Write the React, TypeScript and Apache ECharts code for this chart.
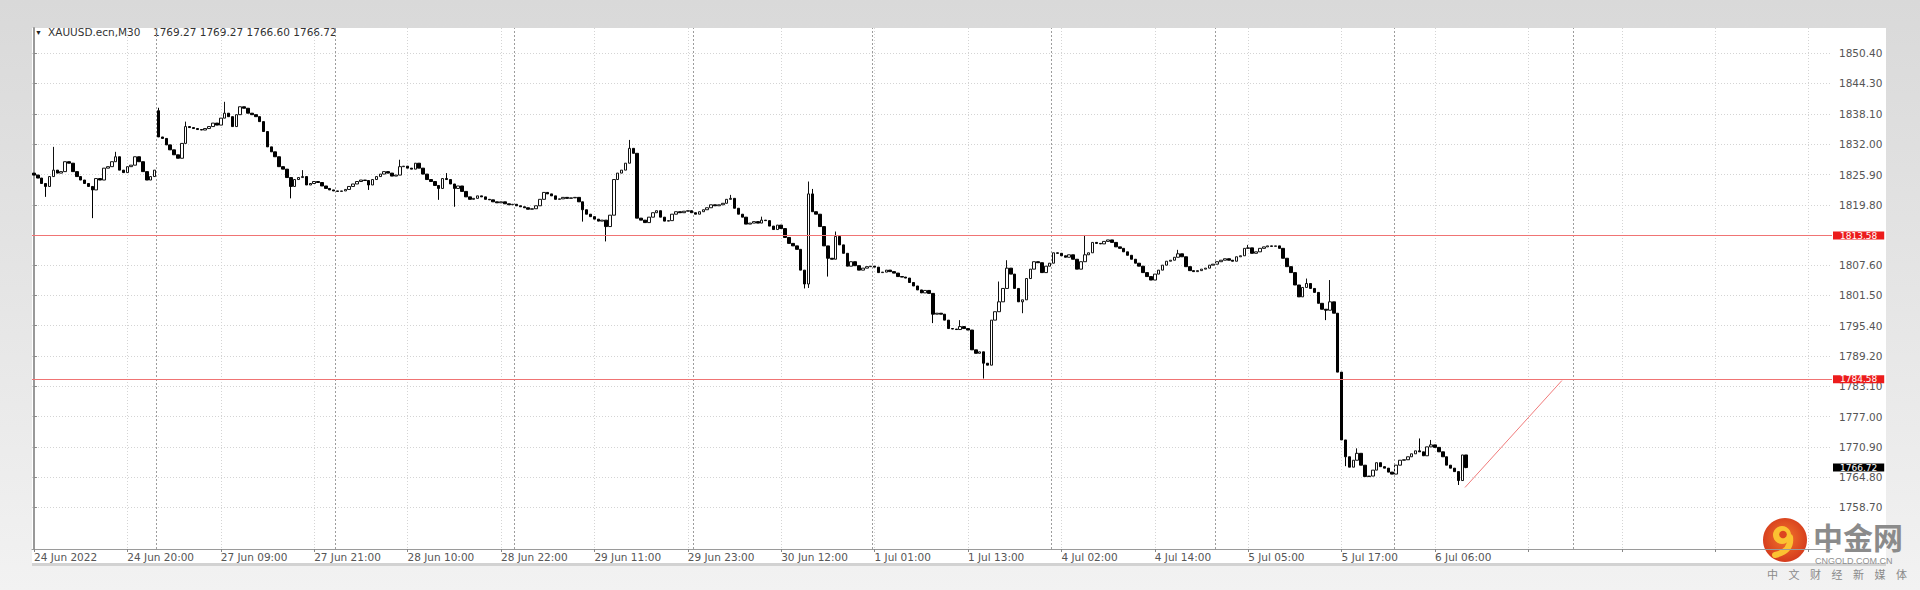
import React, { useEffect, useRef } from "react";
import * as echarts from "echarts";

// ---------- data ----------
const symbolName = "XAUUSD.ecn,M30";

const xTickLabels = [
  "24 Jun 2022", "24 Jun 20:00", "27 Jun 09:00", "27 Jun 21:00", "28 Jun 10:00", "28 Jun 22:00",
  "29 Jun 11:00", "29 Jun 23:00", "30 Jun 12:00", "1 Jul 01:00", "1 Jul 13:00", "4 Jul 02:00",
  "4 Jul 14:00", "5 Jul 05:00", "5 Jul 17:00", "6 Jul 06:00",
];
const xTickBars = [0, 24, 48, 72, 96, 120, 144, 168, 192, 216, 240, 264, 288, 312, 336, 360];
const xGridBars = [0, 24, 48, 72, 96, 120, 144, 168, 192, 216, 240, 264, 288, 312, 336, 360, 384, 408, 432, 456];
const daySeparators = [31.5, 77.5, 123.5, 169.5, 215.5, 261.5, 303.5, 349.5, 395.5];

const yTicks = [
  1758.7, 1764.8, 1770.9, 1777.0, 1783.1, 1789.2, 1795.4, 1801.5,
  1807.6, 1813.7, 1819.8, 1825.9, 1832.0, 1838.1, 1844.3, 1850.4,
];
const yHiddenLabel = 1813.7;
const yMin = 1750.27;
const yMax = 1855.51;

const levelLines = [1813.58, 1784.58];
const currentPrice = 1766.72;
const trendLine = [
  [367.7, 1762.7],
  [392.6, 1784.3],
];

// M30 closes, bar 0 .. 368
const closes = [
  1825.8, 1825.2, 1824.1, 1823.5, 1825.5, 1826.8, 1826.2, 1826.5, 1828.5, 1828.2,
  1826.5, 1825.5, 1824.8, 1824.1, 1823.5, 1822.8, 1825.1, 1824.8, 1827.2, 1827.5,
  1828.5, 1829.5, 1826.8, 1826.3, 1827.5, 1827.8, 1829.5, 1828.5, 1826.5, 1824.8,
  1825.5, 1826.8, 1833.5, 1833.2, 1831.9, 1830.9, 1829.9, 1829.2, 1832.2, 1835.6,
  1835.4, 1835.2, 1835.0, 1834.9, 1835.2, 1835.6, 1836.3, 1835.9, 1837.3, 1838.3,
  1837.6, 1835.6, 1838.0, 1839.6, 1839.3, 1838.3, 1838.0, 1837.6, 1836.6, 1834.6,
  1831.5, 1830.5, 1829.5, 1827.5, 1827.0, 1825.3, 1823.5, 1824.9, 1825.3, 1825.5,
  1823.8, 1824.1, 1824.5, 1824.3, 1823.6, 1823.1, 1822.8, 1822.6, 1822.5, 1822.6,
  1822.9, 1823.5, 1824.0, 1824.5, 1824.8, 1824.7, 1823.8, 1824.9, 1825.5, 1826.0,
  1826.5, 1826.2, 1825.6, 1825.8, 1827.5, 1827.6, 1827.2, 1827.0, 1828.2, 1827.2,
  1826.0, 1824.9, 1824.5, 1823.7, 1823.1, 1825.1, 1824.9, 1824.0, 1823.1, 1823.6,
  1822.5, 1821.4, 1820.9, 1821.1, 1821.6, 1821.4, 1820.9, 1820.8, 1820.4, 1820.2,
  1820.4, 1820.0, 1819.8, 1819.9, 1819.6, 1819.4, 1819.2, 1818.9, 1819.0, 1819.6,
  1820.9, 1822.3, 1822.0, 1821.6, 1820.9, 1821.0, 1821.3, 1821.1, 1821.2, 1821.3,
  1820.4, 1818.8, 1817.9, 1817.4, 1816.9, 1816.5, 1816.7, 1815.4, 1817.7, 1824.9,
  1826.2, 1826.8, 1828.2, 1831.2, 1830.2, 1817.1, 1816.7, 1816.2, 1817.3, 1818.2,
  1818.6, 1817.3, 1816.5, 1816.6, 1817.9, 1818.4, 1818.2, 1818.5, 1818.6, 1818.2,
  1817.9, 1818.4, 1818.8, 1819.2, 1819.8, 1819.6, 1819.8, 1820.1, 1820.9, 1821.1,
  1819.1, 1817.9, 1817.3, 1815.9, 1816.1, 1816.4, 1816.1, 1816.7, 1816.6, 1815.5,
  1814.8, 1815.7, 1815.0, 1813.2, 1812.0, 1811.5, 1810.8, 1806.6, 1803.8, 1822.0,
  1818.4, 1817.9, 1815.4, 1811.5, 1809.0, 1808.8, 1813.4, 1811.7, 1810.0, 1807.4,
  1808.3, 1807.5, 1806.6, 1807.0, 1807.3, 1807.4, 1807.2, 1806.1, 1806.2, 1806.6,
  1806.3, 1806.0, 1805.3, 1805.2, 1805.0, 1804.1, 1803.4, 1802.6, 1802.0, 1802.5,
  1801.9, 1797.7, 1797.9, 1797.7, 1796.5, 1794.8, 1794.7, 1794.6, 1795.2, 1794.8,
  1794.5, 1790.5, 1789.8, 1790.1, 1787.8, 1787.4, 1796.5, 1798.2, 1800.2, 1802.9,
  1807.0, 1805.8, 1802.9, 1800.2, 1800.6, 1804.9, 1806.8, 1808.3, 1808.1, 1806.1,
  1807.4, 1808.0, 1810.1, 1810.0, 1809.5, 1809.2, 1809.7, 1808.8, 1806.8, 1808.3,
  1809.7, 1810.1, 1812.2, 1812.0, 1811.9, 1812.4, 1812.7, 1812.2, 1811.3, 1811.0,
  1810.3, 1809.6, 1808.8, 1808.0, 1807.4, 1806.1, 1805.3, 1804.6, 1805.8, 1806.6,
  1807.6, 1808.4, 1808.6, 1809.2, 1809.9, 1809.3, 1807.3, 1806.5, 1806.3, 1806.5,
  1806.8, 1807.0, 1807.6, 1807.8, 1808.3, 1808.6, 1808.9, 1808.6, 1808.4, 1809.3,
  1809.5, 1811.0, 1811.1, 1810.0, 1810.3, 1811.0, 1811.3, 1811.5, 1811.4, 1811.5,
  1811.0, 1809.0, 1807.3, 1806.1, 1803.6, 1801.2, 1803.1, 1803.9, 1802.9, 1802.1,
  1799.9, 1798.7, 1798.5, 1800.2, 1797.9, 1786.0, 1772.3, 1768.9, 1766.8, 1768.2,
  1769.6, 1767.2, 1764.9, 1765.0, 1766.2, 1767.7, 1766.9, 1766.6, 1765.8, 1765.4,
  1767.2, 1768.2, 1768.3, 1768.9, 1769.5, 1770.1, 1769.9, 1769.1, 1770.9, 1771.3,
  1770.8, 1769.9, 1768.9, 1767.2, 1766.6, 1765.9, 1764.1, 1769.27, 1766.72,
];

// opens that differ from the previous close (session gaps)
const openGaps: [number, number][] = [
  [0, 1826.2],
  [32, 1838.8],
];
// visible upper wicks
const highWicks: [number, number][] = [
  [5, 1831.5], [21, 1830.5], [32, 1839.4], [39, 1836.6], [49, 1840.6], [69, 1826.8],
  [94, 1828.9], [106, 1826.2], [153, 1832.9], [179, 1821.8], [187, 1817.4], [199, 1824.5],
  [200, 1823.0], [206, 1814.4], [238, 1796.5], [248, 1804.3], [250, 1808.6], [270, 1813.7],
  [294, 1810.7], [312, 1811.7], [327, 1804.9], [333, 1804.6], [340, 1770.6], [356, 1772.6],
  [359, 1772.3], [368, 1769.27],
];
// visible lower wicks
const lowWicks: [number, number][] = [
  [3, 1821.4], [15, 1817.1], [66, 1821.1], [86, 1822.8], [104, 1820.8], [108, 1819.4],
  [141, 1816.4], [147, 1812.4], [198, 1802.9], [199, 1803.0], [204, 1805.3], [231, 1795.9],
  [244, 1784.7], [254, 1797.9], [332, 1796.5], [337, 1767.0], [366, 1763.2], [368, 1766.6],
];

// ---------- build OHLC rows ----------
const openMap = new Map(openGaps);
const highMap = new Map(highWicks);
const lowMap = new Map(lowWicks);
const candles = closes.map((c, i) => {
  const o = openMap.has(i) ? (openMap.get(i) as number) : closes[i - 1];
  const h = Math.max(o, c, highMap.has(i) ? (highMap.get(i) as number) : -Infinity);
  const l = Math.min(o, c, lowMap.has(i) ? (lowMap.get(i) as number) : Infinity);
  return [i, o, c, l, h];
});
const last = candles[candles.length - 1];
const headerValues = [last[1], last[4], last[3], last[2]].map((v) => v.toFixed(2)).join(" ");

const FONT = "DejaVu Sans";

export default function App() {
  const ref = useRef<HTMLDivElement>(null);

  useEffect(() => {
    if (!ref.current) return;
    const chart = echarts.init(ref.current, null, { renderer: "svg" });

    const labelStyle = (bg: string) => ({
      show: true,
      position: "end",
      distance: 1,
      backgroundColor: bg,
      color: "#ffffff",
      fontFamily: FONT,
      fontSize: 9,
      lineHeight: 8,
      padding: [0, 7],
    });

    const markData: any[] = [
      ...daySeparators.map((v) => ({
        xAxis: v,
        lineStyle: { color: "#9c9c9c", width: 1, type: [2, 2] },
      })),
      ...levelLines.map((v) => ({
        yAxis: v,
        lineStyle: { color: "#f07474", width: 1, type: "solid" },
        label: { ...labelStyle("#ec1c1c"), formatter: v.toFixed(2) },
      })),
      {
        yAxis: currentPrice,
        lineStyle: { color: "rgba(0,0,0,0)", width: 1, type: "solid" },
        label: { ...labelStyle("#000000"), formatter: currentPrice.toFixed(2) },
      },
      [
        { coord: trendLine[0] },
        { coord: trendLine[1], lineStyle: { color: "#f07a7a", width: 1, type: "solid" } },
      ],
    ];

    const gridLine = { show: true, lineStyle: { color: "#d4d4d4", width: 1, type: [1, 2] } };

    const option: any = {
      animation: false,
      backgroundColor: "transparent",
      grid: { left: 32, top: 28, width: 1800, height: 521, containLabel: false, outerBoundsMode: "none" },
      xAxis: {
        type: "value",
        min: -0.5,
        max: 462,
        axisLine: { show: true, onZero: false, lineStyle: { color: "#9a9a9a", width: 1 } },
        axisTick: { show: true, customValues: xGridBars, length: 3, lineStyle: { color: "#888" } },
        axisLabel: {
          customValues: xTickBars,
          formatter: (v: number) => {
            const k = xTickBars.indexOf(Math.round(v));
            return k >= 0 ? xTickLabels[k] : "";
          },
          align: "left",
          margin: 2,
          fontFamily: FONT,
          fontSize: 10.5,
          color: "#555",
        },
        splitLine: gridLine,
      },
      yAxis: {
        type: "value",
        position: "right",
        min: yMin,
        max: yMax,
        scale: true,
        axisLine: { show: true, lineStyle: { color: "#999", width: 2 } },
        axisTick: { show: true, customValues: yTicks, length: 3, lineStyle: { color: "#888" } },
        axisLabel: {
          customValues: yTicks.filter((v) => v !== yHiddenLabel),
          formatter: (v: number) => v.toFixed(2),
          margin: 7,
          fontFamily: FONT,
          fontSize: 10.5,
          color: "#555",
        },
        splitLine: gridLine,
      },
      series: [
        {
          type: "candlestick",
          data: candles,
          encode: { x: 0, y: [1, 2, 3, 4] },
          barWidth: 3,
          itemStyle: {
            color: "#ffffff",
            color0: "#000000",
            borderColor: "#111111",
            borderColor0: "#000000",
            borderWidth: 1,
          },
          emphasis: { disabled: true },
          markLine: {
            silent: true,
            symbol: ["none", "none"],
            label: { show: false },
            emphasis: { disabled: true },
            data: markData,
          },
        },
      ],
      graphic: [
        {
          type: "text",
          x: 35,
          y: 32,
          style: { text: "\u25BC", fontSize: 7, fill: "#222", verticalAlign: "middle" },
        },
        {
          type: "text",
          x: 48,
          y: 32,
          style: { text: symbolName, fontFamily: FONT, fontSize: 10.5, fill: "#333", verticalAlign: "middle" },
        },
        {
          type: "text",
          x: 153,
          y: 32,
          style: { text: headerValues, fontFamily: FONT, fontSize: 10.5, fill: "#333", verticalAlign: "middle" },
        },
        // CNGOLD watermark
        {
          type: "circle",
          shape: { cx: 1785, cy: 540, r: 22 },
          style: {
            fill: new echarts.graphic.RadialGradient(0.5, 0.45, 0.6, [
              { offset: 0, color: "#f2762c" },
              { offset: 1, color: "#d2351b" },
            ]),
          },
        },
        {
          type: "bezierCurve",
          shape: { x1: 1790, y1: 537, cpx1: 1792, cpy1: 551, x2: 1775, y2: 555 },
          style: { stroke: "#fbc232", lineWidth: 6, fill: null, lineCap: "round" },
        },
        { type: "circle", shape: { cx: 1782, cy: 535, r: 9 }, style: { fill: "#fbc232" } },
        { type: "circle", shape: { cx: 1783, cy: 534.5, r: 3.8 }, style: { fill: "#dd4420" } },
        {
          type: "text",
          x: 1813,
          y: 536,
          style: {
            text: "\u4E2D\u91D1\u7F51",
            fontFamily: "Noto Sans CJK SC",
            fontWeight: "bold",
            fontSize: 30,
            lineHeight: 30,
            fill: "#8b8b8b",
            verticalAlign: "middle",
          },
        },
        {
          type: "text",
          x: 1815,
          y: 560.5,
          style: {
            text: "CNGOLD.COM.CN",
            fontFamily: "Liberation Sans",
            fontSize: 9,
            lineHeight: 8,
            fill: "#8f8f8f",
            verticalAlign: "middle",
          },
        },
        ...Array.from("\u4E2D\u6587\u8D22\u7ECF\u65B0\u5A92\u4F53").map((ch, k) => ({
          type: "text",
          x: 1767 + k * 21.5,
          y: 574,
          style: {
            text: ch,
            fontFamily: "Noto Sans CJK SC",
            fontSize: 11,
            lineHeight: 11,
            fill: "#8a8a8a",
            verticalAlign: "middle",
          },
        })),
      ],
    };

    chart.setOption(option);
    return () => chart.dispose();
  }, []);

  return (
    <div
      style={{
        position: "fixed",
        left: 0,
        top: 0,
        width: 1920,
        height: 590,
        overflow: "hidden",
        background: "linear-gradient(to bottom, #d9d9d9 0%, #e4e4e4 45%, #f2f2f2 100%)",
      }}
    >
      <div style={{ position: "absolute", left: 32, top: 28, width: 1854, height: 535, background: "#ffffff" }} />
      <div style={{ position: "absolute", left: 32, top: 563, width: 1854, height: 3, background: "#d2d2d2" }} />
      <div ref={ref} style={{ position: "absolute", left: 0, top: 0, width: 1920, height: 590 }} />
    </div>
  );
}
